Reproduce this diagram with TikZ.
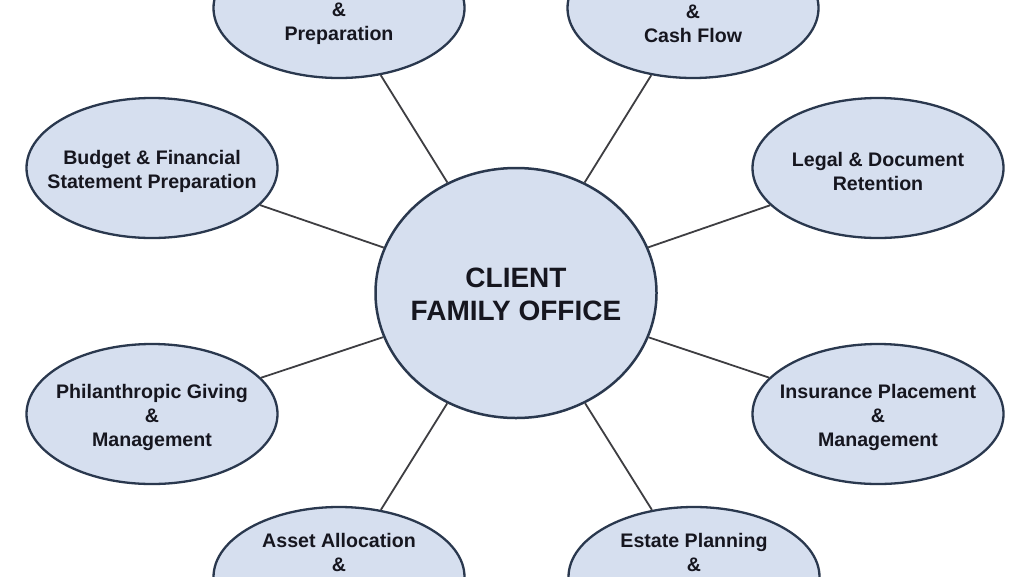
\documentclass[tikz,border=0pt]{standalone}
\usepackage{fontspec}
\setmainfont{Liberation Sans}
\usetikzlibrary{shapes.geometric}
\definecolor{fillblue}{HTML}{D6DFEF}
\definecolor{rimnavy}{HTML}{2A384E}
\definecolor{linkgray}{HTML}{3E3E42}
\definecolor{txtdark}{HTML}{16161F}
\tikzset{
  outer/.style={ellipse, draw=rimnavy, fill=fillblue, line width=2.3pt,
    minimum width=251pt, minimum height=140pt, inner sep=0pt},
  hub/.style={ellipse, draw=rimnavy, fill=fillblue, line width=2.5pt,
    minimum width=281pt, minimum height=250pt, inner sep=0pt},
  lbl/.style={font=\bfseries\fontsize{19.6}{24}\selectfont, align=center, text=txtdark, inner sep=0pt},
  hublbl/.style={font=\bfseries\fontsize{28}{33}\selectfont, align=center, text=txtdark, inner sep=0pt},
  link/.style={draw=linkgray, line width=1.8pt}
}
\begin{document}
\begin{tikzpicture}[x=1pt,y=-1pt]
\useasboundingbox (0,0) rectangle (1024,576);
\clip (0,0) rectangle (1024,576);
\fill[white] (0,0) rectangle (1024,576);
% hub
\node[hub] (hub) at (516,293) {};
% outer ellipses
\node[outer] (tl) at (339,8) {};
\node[outer] (tr) at (693,8) {};
\node[outer] (ml) at (152,168) {};
\node[outer] (mr) at (878,168) {};
\node[outer] (ll) at (152,414) {};
\node[outer] (lr) at (878,414) {};
\node[outer] (bl) at (339,577) {};
\node[outer] (br) at (694,577) {};
% connectors
\foreach \e in {tl,tr,ml,mr,ll,lr,bl,br}{
  \draw[link] (hub) -- (\e);
}
% labels
\node[hublbl] (hubt) at (516,294) {CLIENT\\FAMILY OFFICE};
\node[lbl] (tlt) at (339,23.5) {\&\\Preparation};
\node[lbl] (trt) at (693,23.5) {\&\\Cash Flow};
\node[lbl] (mlt) at (152,171) {Budget \& Financial\\Statement Preparation};
\node[lbl] (mrt) at (878,171) {Legal \& Document\\Retention};
\node[lbl] (llt) at (152,417) {Philanthropic Giving\\\&\\Management};
\node[lbl] (lrt) at (878,417) {Insurance Placement\\\&\\Management};
\node[lbl] (blt) at (339,552.5) {Asset Allocation\\\&};
\node[lbl] (brt) at (694,552.5) {Estate Planning\\\&};
\end{tikzpicture}
\end{document}
